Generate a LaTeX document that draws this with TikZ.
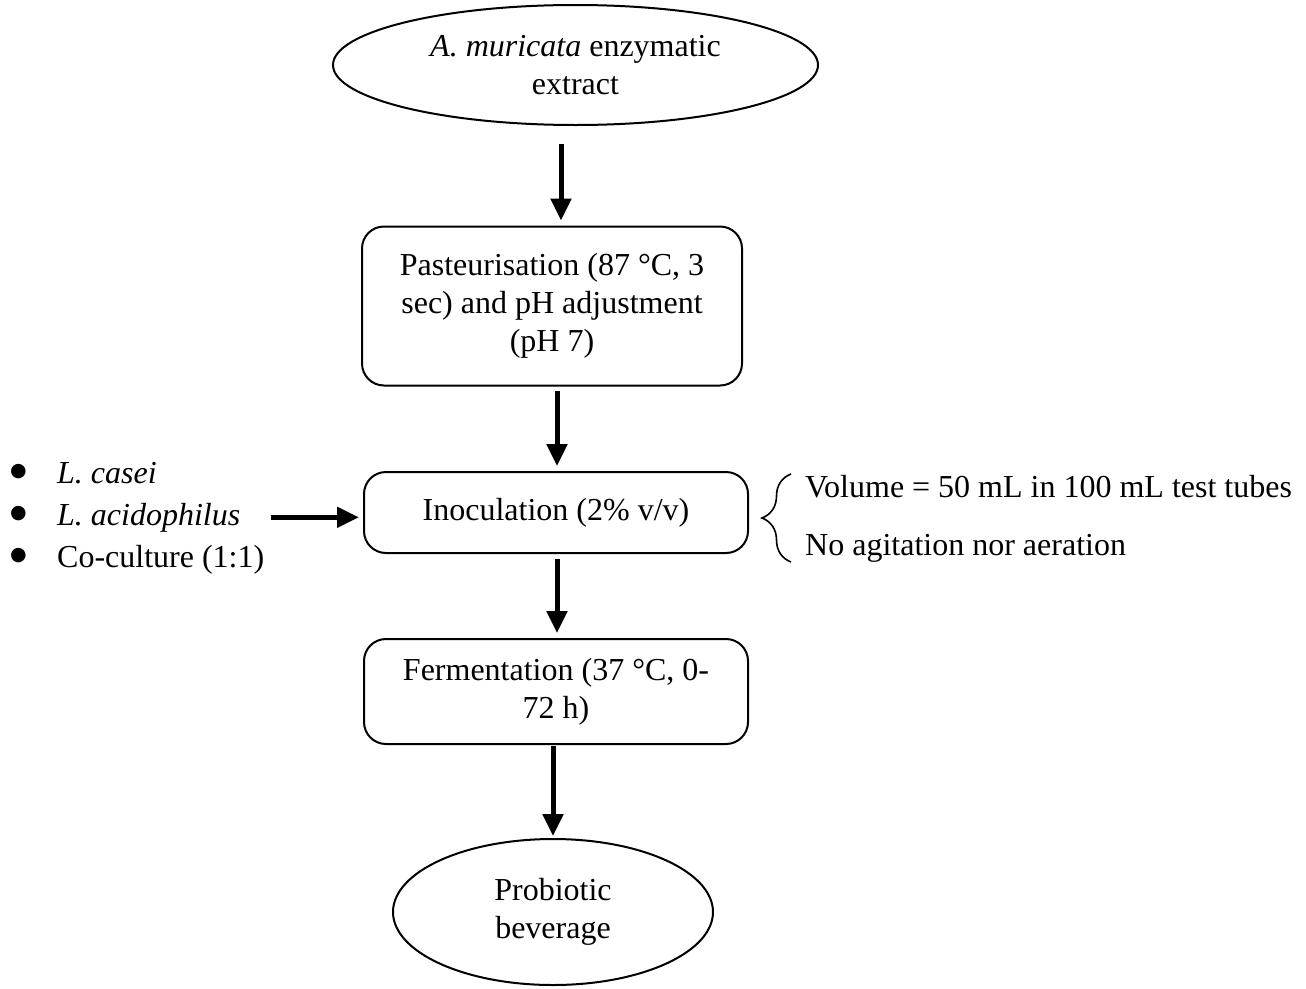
\documentclass[tikz,border=0pt]{standalone}
\usepackage{fontspec}
\setmainfont{Liberation Serif}
\newfontfamily\symfont{DejaVu Sans}
\usetikzlibrary{shapes.geometric,arrows.meta,decorations.pathreplacing}

\newcommand{\bigdot}{\makebox[47pt][l]{\raisebox{7pt}{\symfont\fontsize{19}{19}\selectfont ●}}}

\begin{document}
\begin{tikzpicture}[x=1pt, y=-1pt,
		every node/.style={font=\fontsize{32}{38}\selectfont, align=center, inner sep=0pt},
		stepbox/.style={draw, line width=2pt, rounded corners=22pt},
		endpoint/.style={draw, ellipse, line width=2pt},
		arr/.style={line width=5pt, -{Triangle[length=22pt, width=20pt]}}]
		\useasboundingbox (0,0) rectangle (1306,988);
		
		% Flow
		\node[endpoint, minimum width=485, minimum height=120] (extract) at (575.5,65) {\textit{A. muricata} enzymatic\\extract};
		\node[stepbox, minimum width=380, minimum height=159] (pasteur) at (552,306) {Pasteurisation (87 °C, 3\\sec) and pH adjustment\\(pH 7)};
		\node[stepbox, minimum width=384, minimum height=81] (inoc) at (556,512.5) {Inoculation (2\% v/v)};
		\node[stepbox, minimum width=384, minimum height=105] (ferment) at (556,691.5) {Fermentation (37 °C, 0-\\72 h)};
		\node[endpoint, minimum width=320, minimum height=146] (beverage) at (553,912) {Probiotic\\beverage};
		
		\draw[arr, shorten <=18pt, shorten >=5pt] ([xshift=-14.5pt]extract.south) -- ([xshift=9pt]pasteur.north);
		\draw[arr, shorten <=4pt, shorten >=5pt] ([xshift=5pt]pasteur.south) -- ([xshift=1pt]inoc.north);
		\draw[arr, shorten <=5pt, shorten >=5pt] ([xshift=1pt]inoc.south) -- ([xshift=1pt]ferment.north);
		\draw[arr, shorten <=1pt, shorten >=2pt] ([xshift=-3pt]ferment.south) -- (beverage.north);
		
		% Strains
		\node[anchor=base west] (casei) at (10,483) {\bigdot\textit{L. casei}};
		\node[anchor=base west] (acido) at (10,525) {\bigdot\textit{L. acidophilus}};
		\node[anchor=base west] (cocult) at (10,567) {\bigdot Co-culture (1:1)};
		\draw[arr, shorten <=30pt, shorten >=4pt] (acido.east) -- (acido.east -| inoc.west);
		
		% Conditions
		\coordinate (bracetop) at (791,474);
		\coordinate (bracebot) at (791,562);
		\draw[line width=1.6pt, decorate, decoration={brace, amplitude=29pt}] (bracebot) -- (bracetop);
		\node[anchor=base west] (volume) at (805,497) {Volume = 50 mL in 100 mL test tubes};
		\node[anchor=base west] (agit) at (805,555) {No agitation nor aeration};
	\end{tikzpicture}
\end{document}
